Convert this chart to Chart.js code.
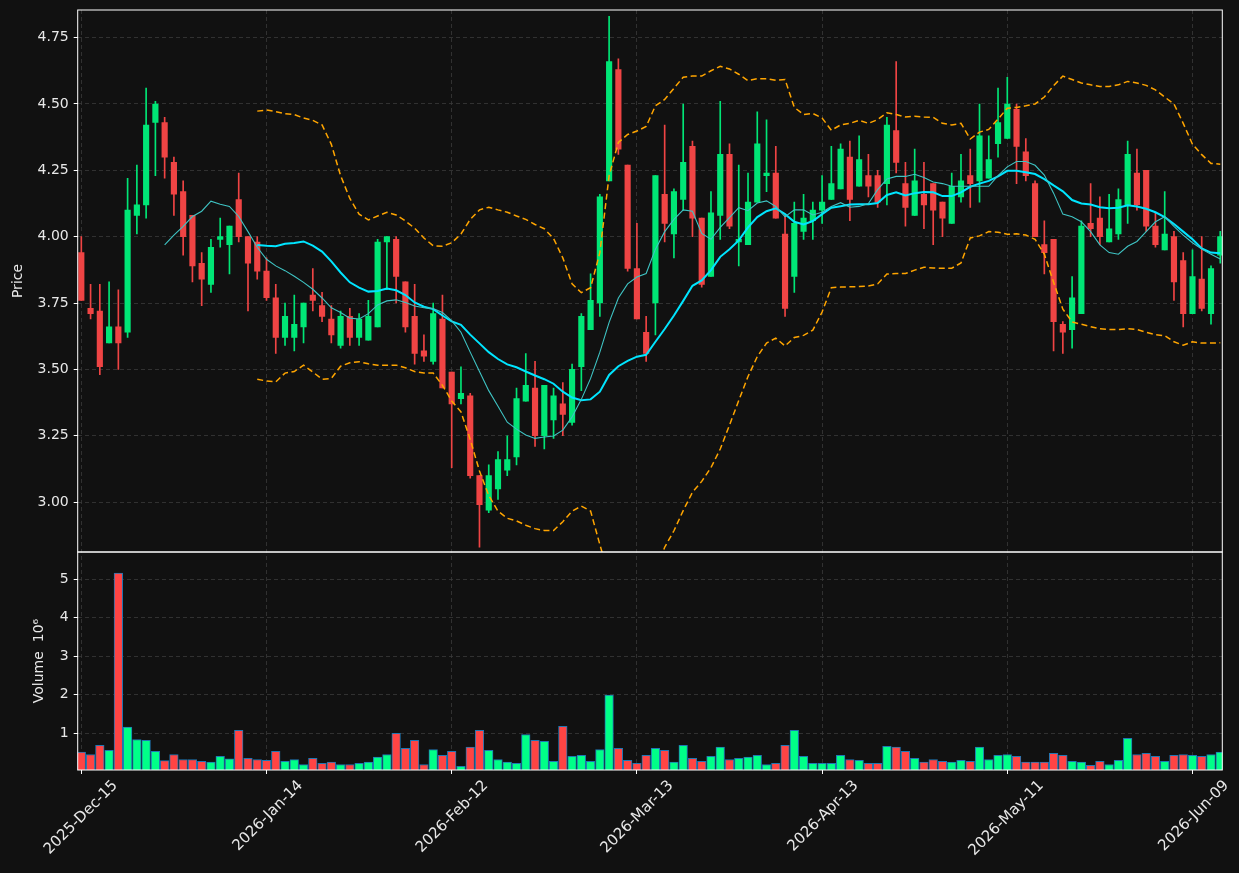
<!DOCTYPE html>
<html>
<head>
<meta charset="utf-8">
<script src="https://cdn.jsdelivr.net/npm/chart.js@4.4.1/dist/chart.umd.min.js"></script>
<style>
  html, body { margin: 0; padding: 0; background: #111111; }
  #wrap { width: 1239px; height: 873px; position: relative; }
</style>
</head>
<body>
<div id="wrap"><canvas id="c"></canvas></div>
<script>
// Candles (one per trading day, index 0 = 2025-Dec-15), volumes in millions
const tickIdx = [0, 20, 40, 60, 80, 100, 120];
const tickLabels = ["2025-Dec-15", "2026-Jan-14", "2026-Feb-12", "2026-Mar-13", "2026-Apr-13", "2026-May-11", "2026-Jun-09"];
const priceTicks = [3.00, 3.25, 3.50, 3.75, 4.00, 4.25, 4.50, 4.75];
const volTicks = [1, 2, 3, 4, 5];

const open = [3.94,3.73,3.72,3.60,3.66,3.64,4.08,4.12,4.43,4.43,
  4.28,4.17,4.08,3.90,3.82,3.99,3.97,4.14,4.00,3.98,
  3.87,3.77,3.62,3.62,3.66,3.78,3.74,3.69,3.59,3.70,
  3.62,3.61,3.66,3.98,3.99,3.83,3.70,3.57,3.53,3.69,
  3.49,3.39,3.40,3.10,2.97,3.05,3.12,3.17,3.38,3.43,
  3.25,3.31,3.37,3.30,3.51,3.65,3.75,4.21,4.63,4.27,
  3.88,3.64,3.75,4.16,4.01,4.14,4.34,4.07,3.85,4.08,
  4.31,3.98,3.97,4.13,4.23,4.24,4.01,3.85,4.02,4.06,
  4.10,4.14,4.18,4.30,4.19,4.23,4.23,4.20,4.40,4.20,
  4.08,4.16,4.20,4.13,4.05,4.15,4.23,4.21,4.22,4.35,
  4.37,4.48,4.32,4.20,3.97,3.99,3.67,3.65,3.71,4.05,
  4.07,3.98,4.01,4.12,4.24,4.25,4.04,3.95,4.00,3.91,
  3.71,3.84,3.71,3.93];
const high = [4.00,3.82,3.82,3.83,3.80,4.22,4.27,4.56,4.51,4.45,
  4.30,4.21,4.08,3.94,3.99,4.07,4.04,4.24,4.00,4.00,
  3.92,3.82,3.75,3.78,3.75,3.88,3.79,3.74,3.72,3.73,
  3.71,3.76,3.99,4.00,4.00,3.83,3.82,3.63,3.75,3.78,
  3.49,3.51,3.41,3.10,3.14,3.19,3.25,3.43,3.56,3.53,
  3.44,3.43,3.45,3.52,3.71,3.86,4.16,4.83,4.67,4.27,
  4.05,3.70,4.23,4.42,4.18,4.50,4.36,4.07,4.17,4.51,
  4.35,4.27,4.24,4.47,4.44,4.34,4.08,4.13,4.16,4.13,
  4.23,4.34,4.35,4.36,4.38,4.31,4.25,4.45,4.66,4.28,
  4.33,4.28,4.20,4.13,4.24,4.31,4.33,4.50,4.38,4.56,
  4.60,4.50,4.37,4.21,4.06,3.99,3.68,3.85,4.06,4.20,
  4.15,4.16,4.18,4.36,4.33,4.25,4.09,4.17,4.02,3.94,
  3.95,4.00,3.89,4.02];
const low = [3.76,3.69,3.48,3.60,3.50,3.62,4.01,4.07,4.23,4.22,
  4.08,3.93,3.83,3.74,3.79,3.96,3.86,3.98,3.72,3.84,
  3.76,3.56,3.59,3.57,3.60,3.72,3.68,3.60,3.58,3.59,
  3.59,3.61,3.66,3.80,3.75,3.64,3.52,3.53,3.52,3.43,
  3.13,3.37,3.09,2.83,2.96,3.01,3.10,3.14,3.38,3.21,
  3.20,3.24,3.25,3.29,3.42,3.65,3.70,4.21,4.31,3.87,
  3.69,3.53,3.63,3.98,3.92,4.10,4.00,3.81,3.85,3.99,
  4.03,3.89,3.97,4.13,4.17,4.07,3.70,3.79,3.99,3.99,
  4.05,4.14,4.18,4.06,4.19,4.15,4.11,4.12,4.24,4.04,
  4.08,4.03,3.97,4.00,4.05,4.13,4.11,4.13,4.22,4.30,
  4.37,4.20,4.21,4.00,3.86,3.57,3.56,3.58,3.71,4.00,
  3.97,3.98,3.99,4.05,4.10,4.02,3.96,3.95,3.76,3.66,
  3.71,3.72,3.67,3.90];
const close = [3.76,3.71,3.51,3.66,3.60,4.10,4.12,4.42,4.50,4.30,
  4.16,4.00,3.89,3.84,3.96,4.00,4.04,4.00,3.90,3.87,
  3.77,3.62,3.70,3.67,3.75,3.76,3.70,3.63,3.70,3.62,
  3.69,3.70,3.98,4.00,3.85,3.66,3.56,3.55,3.71,3.43,
  3.37,3.41,3.10,2.99,3.10,3.16,3.16,3.39,3.44,3.25,
  3.44,3.40,3.33,3.50,3.70,3.76,4.15,4.66,4.33,3.88,
  3.69,3.56,4.23,4.05,4.17,4.28,4.07,3.82,4.09,4.31,
  4.04,3.99,4.13,4.35,4.24,4.07,3.73,4.05,4.07,4.10,
  4.13,4.20,4.33,4.14,4.29,4.19,4.13,4.42,4.28,4.11,
  4.21,4.12,4.10,4.07,4.19,4.21,4.20,4.38,4.29,4.43,
  4.50,4.34,4.23,4.00,3.94,3.68,3.64,3.77,4.04,4.03,
  4.00,4.03,4.14,4.31,4.12,4.04,3.97,4.01,3.83,3.71,
  3.85,3.73,3.88,4.00];
const volume = [0.51,0.45,0.69,0.56,5.16,1.16,0.84,0.82,0.53,0.29,
  0.45,0.32,0.32,0.27,0.25,0.40,0.34,1.08,0.35,0.32,
  0.30,0.53,0.27,0.32,0.19,0.35,0.22,0.25,0.19,0.19,
  0.22,0.25,0.38,0.45,1.00,0.61,0.82,0.19,0.58,0.43,
  0.53,0.14,0.64,1.08,0.56,0.32,0.25,0.22,0.97,0.82,
  0.79,0.27,1.18,0.40,0.43,0.27,0.58,1.99,0.61,0.30,
  0.22,0.43,0.61,0.56,0.25,0.69,0.35,0.27,0.40,0.64,
  0.32,0.35,0.38,0.43,0.19,0.22,0.69,1.08,0.40,0.22,
  0.22,0.22,0.43,0.32,0.30,0.22,0.22,0.66,0.64,0.53,
  0.35,0.25,0.32,0.27,0.25,0.30,0.27,0.64,0.32,0.43,
  0.45,0.40,0.25,0.25,0.25,0.48,0.43,0.27,0.25,0.17,
  0.27,0.19,0.30,0.87,0.45,0.48,0.40,0.27,0.43,0.45,
  0.43,0.40,0.45,0.51];

// Overlays; they start at these candle indexes
const ma10Start = 9;
const ma10 = [3.969,4.006,4.039,4.076,4.096,4.134,4.122,4.114,4.076,4.019,
  3.960,3.915,3.890,3.872,3.851,3.828,3.802,3.769,3.732,3.714,
  3.693,3.690,3.710,3.743,3.758,3.762,3.752,3.739,3.732,3.729,
  3.714,3.684,3.640,3.565,3.492,3.420,3.361,3.301,3.275,3.253,
  3.240,3.245,3.249,3.271,3.321,3.387,3.466,3.565,3.677,3.769,
  3.822,3.848,3.861,3.953,4.019,4.065,4.101,4.096,4.012,3.990,
  4.035,4.072,4.109,4.098,4.127,4.135,4.114,4.075,4.101,4.101,
  4.082,4.092,4.114,4.128,4.111,4.114,4.125,4.177,4.217,4.227,
  4.227,4.235,4.223,4.206,4.200,4.190,4.190,4.190,4.190,4.190,
  4.230,4.263,4.283,4.283,4.269,4.232,4.164,4.085,4.075,4.056,
  4.019,3.969,3.940,3.934,3.964,3.982,4.019,4.056,4.075,4.039,
  4.006,3.977,3.953,3.934,3.916];
const ma20Start = 19;
const ma20 = [3.969,3.966,3.964,3.973,3.976,3.982,3.966,3.944,3.907,3.865,
  3.828,3.808,3.793,3.795,3.805,3.798,3.780,3.752,3.736,3.727,
  3.703,3.681,3.668,3.631,3.598,3.565,3.539,3.519,3.508,3.492,
  3.477,3.463,3.446,3.416,3.394,3.384,3.387,3.416,3.479,3.512,
  3.532,3.548,3.555,3.604,3.652,3.703,3.758,3.815,3.835,3.874,
  3.924,3.953,3.986,4.035,4.074,4.096,4.107,4.085,4.056,4.046,
  4.059,4.085,4.109,4.115,4.121,4.122,4.122,4.127,4.157,4.167,
  4.155,4.164,4.168,4.167,4.153,4.153,4.167,4.188,4.200,4.210,
  4.227,4.248,4.248,4.243,4.236,4.217,4.193,4.171,4.138,4.125,
  4.121,4.111,4.107,4.109,4.118,4.114,4.105,4.092,4.074,4.048,
  4.019,3.990,3.956,3.940,3.938];
const bbUpper = [4.473,4.477,4.471,4.463,4.460,4.447,4.438,4.421,4.348,4.230,
  4.144,4.085,4.063,4.078,4.092,4.082,4.059,4.032,3.995,3.966,
  3.964,3.977,4.010,4.065,4.101,4.111,4.101,4.092,4.078,4.065,
  4.046,4.030,3.993,3.920,3.822,3.789,3.808,3.940,4.230,4.355,
  4.385,4.398,4.415,4.493,4.517,4.559,4.601,4.605,4.605,4.625,
  4.642,4.632,4.612,4.588,4.595,4.595,4.589,4.592,4.487,4.460,
  4.464,4.447,4.401,4.421,4.427,4.438,4.427,4.441,4.467,4.460,
  4.451,4.454,4.451,4.450,4.427,4.421,4.427,4.368,4.394,4.404,
  4.443,4.484,4.487,4.493,4.500,4.526,4.569,4.605,4.592,4.579,
  4.572,4.566,4.566,4.572,4.585,4.579,4.570,4.553,4.526,4.500,
  4.427,4.348,4.309,4.276,4.273];
const bbLower = [3.463,3.456,3.453,3.486,3.492,3.516,3.490,3.463,3.466,3.512,
  3.525,3.529,3.521,3.516,3.516,3.516,3.506,3.492,3.486,3.486,
  3.440,3.381,3.340,3.236,3.117,3.025,2.966,2.939,2.929,2.913,
  2.900,2.893,2.893,2.926,2.966,2.985,2.966,2.840,2.720,2.670,
  2.680,2.700,2.700,2.740,2.830,2.892,2.968,3.037,3.078,3.130,
  3.200,3.290,3.383,3.473,3.548,3.599,3.618,3.588,3.620,3.628,
  3.648,3.716,3.808,3.810,3.811,3.812,3.814,3.822,3.859,3.861,
  3.861,3.874,3.885,3.882,3.881,3.881,3.901,3.995,4.003,4.019,
  4.017,4.009,4.011,4.006,3.990,3.934,3.828,3.727,3.679,3.670,
  3.661,3.653,3.650,3.650,3.653,3.650,3.640,3.631,3.627,3.604,
  3.591,3.604,3.599,3.599,3.600];

// Paleta
const C = {
  bg: "#111111", ink: "#e8e8e8", grid: "#3a3a3a", frame: "#ffffff",
  up: "#00e676", down: "#ef4444", volUp: "#00ff88", volDown: "#ff4444", volEdge: "#1f77b4",
  ma20: "#00e5ff", ma10: "#3fc4c4", bb: "#ffa500",
};
const FONT = { family: "DejaVu Sans", size: 14 };

const isUp = close.map((c, i) => c >= open[i]);
const candleColor = isUp.map((u) => (u ? C.up : C.down));
const volColor = isUp.map((u) => (u ? C.volUp : C.volDown));
const series = (arr, start) => arr.map((v, k) => ({ x: start + k, y: v }));

const frame = {
  id: "frame",
  beforeDraw(c) {
    const ctx = c.ctx;
    ctx.save();
    ctx.fillStyle = C.bg;
    ctx.fillRect(0, 0, c.width, c.height);
    ctx.restore();
  },
  afterDraw(c) {
    const { ctx } = c;
    const x = c.scales.x;
    ctx.save();
    ctx.strokeStyle = C.frame;
    ctx.lineWidth = 1;
    [c.scales.y, c.scales.yv].forEach((s) => {
      ctx.strokeRect(x.left, s.top, x.right - x.left, s.bottom - s.top);
    });
    ctx.restore();
  },
};

const lineDs = (label, data, color, width, dash) => ({
  type: "line", label, data, yAxisID: "y",
  borderColor: color, borderWidth: width, borderDash: dash || [],
  pointRadius: 0, tension: 0, fill: false,
});

// ancho fijo del eje y sin relleno extra para las etiquetas
const fixY = (s) => { s.width = 77.7; s.paddingTop = 0; s.paddingBottom = 0; };

new Chart(document.getElementById("c"), {
  type: "bar",
  data: {
    datasets: [
      lineDs("MA10", series(ma10, ma10Start), C.ma10, 1.1),
      lineDs("MA20", series(ma20, ma20Start), C.ma20, 2),
      lineDs("BB upper", series(bbUpper, ma20Start), C.bb, 1.5, [6, 3.5]),
      lineDs("BB lower", series(bbLower, ma20Start), C.bb, 1.5, [6, 3.5]),
      {
        label: "wick", yAxisID: "y", grouped: false, barThickness: 1,
        data: high.map((h, i) => ({ x: i, y: [low[i], h] })),
        backgroundColor: candleColor, order: 5,
      },
      {
        label: "body", yAxisID: "y", grouped: false, barThickness: 5.5, minBarLength: 1,
        data: open.map((o, i) => ({ x: i, y: [o, close[i]] })),
        backgroundColor: candleColor, order: 4,
      },
      {
        label: "Volume", yAxisID: "yv", grouped: false, barThickness: 8.6,
        data: volume.map((v, i) => ({ x: i, y: v })),
        backgroundColor: volColor, borderColor: C.volEdge, borderWidth: 1, order: 6,
      },
    ],
  },
  options: {
    responsive: true,
    maintainAspectRatio: false,
    animation: false,
    events: [],
    layout: { padding: { top: 10, right: 16.7, left: 0, bottom: 0 } },
    plugins: { legend: { display: false }, tooltip: { enabled: false } },
    scales: {
      x: {
        type: "linear", min: -0.39, max: 123.22, offset: false,
        afterBuildTicks: (s) => { s.ticks = tickIdx.map((v) => ({ value: v })); },
        afterFit: (s) => { s.height = 103; },
        ticks: {
          autoSkip: false, minRotation: 45, maxRotation: 45, color: C.ink,
          font: { family: "DejaVu Sans", size: 15 },
          padding: 3, labelOffset: 34,
          callback: (v, i) => tickLabels[i],
        },
        grid: { color: C.grid, lineWidth: 0.8, offset: false, tickColor: C.frame, tickLength: 4, tickWidth: 1 },
        border: { display: false, dash: [4, 3] },
      },
      yv: {
        type: "linear", position: "left", stack: "panels", stackWeight: 218,
        min: 0.047, max: 5.71,
        afterBuildTicks: (s) => { s.ticks = volTicks.map((v) => ({ value: v })); },
        afterFit: fixY,
        ticks: { color: C.ink, font: FONT, padding: 5, callback: (v) => String(v) },
        grid: { color: C.grid, lineWidth: 0.8, tickColor: C.frame, tickLength: 4, tickWidth: 1 },
        border: { display: false, dash: [4, 3] },
        title: { display: true, text: "Volume  10⁶", color: C.ink, font: FONT, padding: { top: 31, bottom: 0 } },
      },
      y: {
        type: "linear", position: "left", stack: "panels", stackWeight: 542,
        min: 2.812, max: 4.854,
        afterBuildTicks: (s) => { s.ticks = priceTicks.map((v) => ({ value: v })); },
        afterFit: fixY,
        ticks: { color: C.ink, font: FONT, padding: 5, callback: (v) => v.toFixed(2) },
        grid: { color: C.grid, lineWidth: 0.8, tickColor: C.frame, tickLength: 4, tickWidth: 1 },
        border: { display: false, dash: [4, 3] },
        title: { display: true, text: "Price", color: C.ink, font: FONT, padding: { top: 10, bottom: 0 } },
      },
    },
  },
  plugins: [frame],
});
</script>
</body>
</html>
